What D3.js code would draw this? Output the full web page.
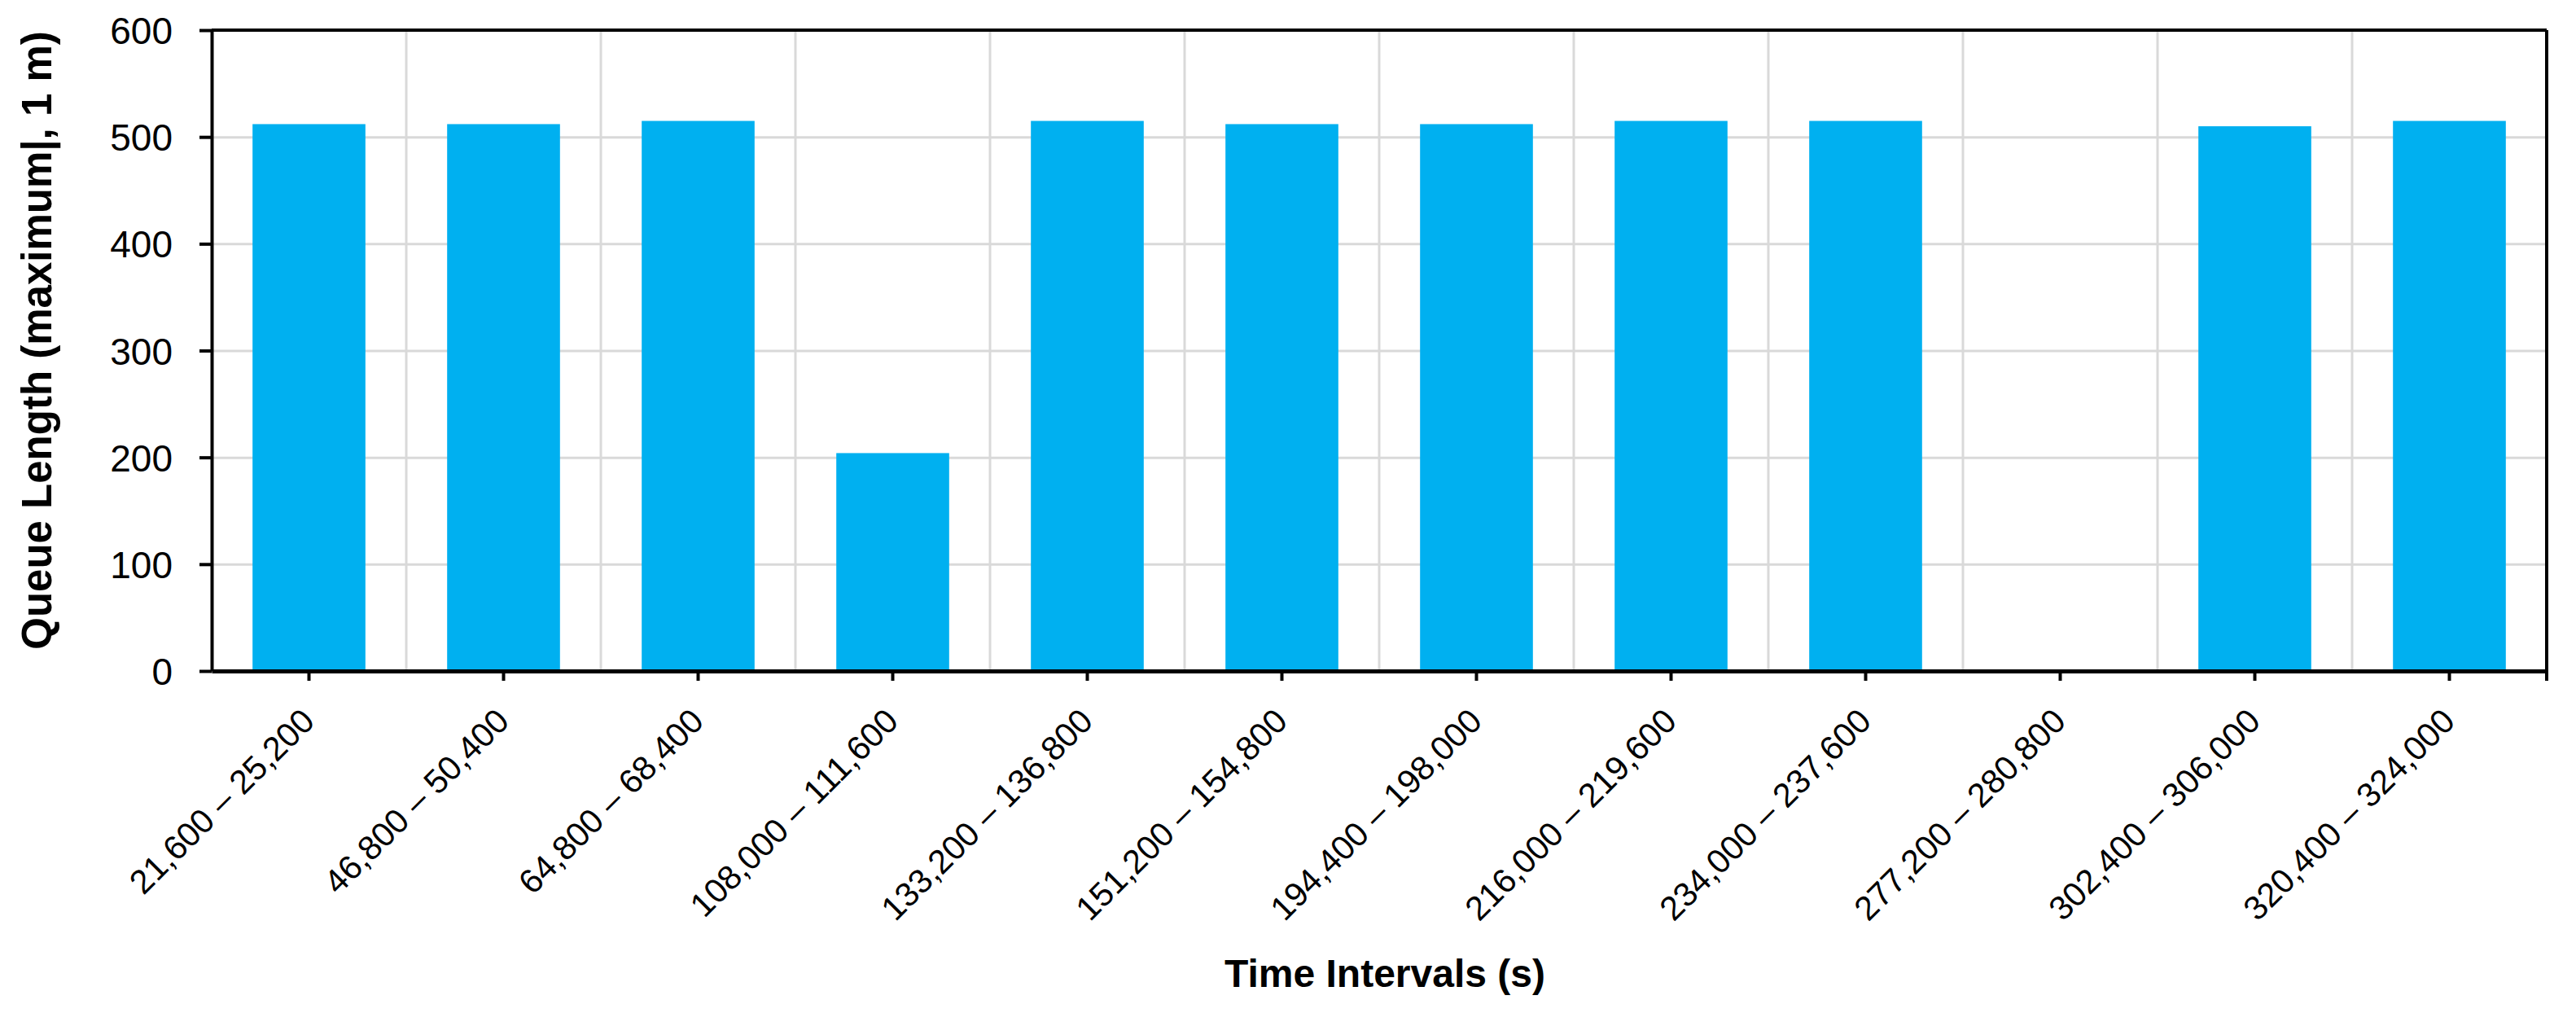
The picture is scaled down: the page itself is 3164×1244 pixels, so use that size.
<!DOCTYPE html>
<html>
<head>
<meta charset="utf-8">
<script src="https://cdn.jsdelivr.net/npm/d3@7"></script>
<style>
  body { margin: 0; background: #fff; }
  text { font-family: "Liberation Sans", Arial, sans-serif; fill: #000; }
</style>
</head>
<body>
<div id="chart"></div>
<script>
// chart data
let intervals = ["21,600 – 25,200", "46,800 – 50,400", "64,800 – 68,400", "108,000 – 111,600",
                 "133,200 – 136,800", "151,200 – 154,800", "194,400 – 198,000", "216,000 – 219,600",
                 "234,000 – 237,600", "277,200 – 280,800", "302,400 – 306,000", "320,400 – 324,000"];
let queueLength = [512, 512, 515, 204, 515, 512, 512, 515, 515, 0, 510, 515];
let yTicks = [0, 100, 200, 300, 400, 500, 600];

// set size for svg container
let width = 3164;
let height = 1244;
let margin = { top: 37, right: 36, bottom: 420, left: 260 };
let chartWidth = width - margin.left - margin.right;
let chartHeight = height - margin.top - margin.bottom;

let svg = d3.select("#chart").append("svg").attr("width", width).attr("height", height);
let chartGroup = svg.append("g").attr("transform", `translate(${margin.left}, ${margin.top})`);

// scales
let xScale = d3.scaleBand().domain(intervals).range([0, chartWidth]).paddingInner(0.42).paddingOuter(0.21);
let yScale = d3.scaleLinear().domain([0, 600]).range([chartHeight, 0]);

// horizontal gridlines
chartGroup.append("g").attr("class", "ygrid")
    .call(d3.axisLeft(yScale).tickValues(yTicks).tickSize(-chartWidth).tickFormat(""))
    .call(g => g.select(".domain").remove())
    .selectAll("line").attr("stroke", "#d9d9d9").attr("stroke-width", 3);

// vertical gridlines at category boundaries
let step = xScale.step();
let bounds = d3.range(1, intervals.length);
chartGroup.append("g").attr("class", "xgrid").selectAll("line")
    .data(bounds).enter().append("line")
    .attr("x1", d => d * step).attr("x2", d => d * step)
    .attr("y1", 0).attr("y2", chartHeight)
    .attr("stroke", "#d9d9d9").attr("stroke-width", 3);

// bars
chartGroup.selectAll("rect.bar")
    .data(queueLength).enter()
    .append("rect")
    .attr("class", "bar")
    .attr("x", (d, i) => xScale(intervals[i]))
    .attr("y", d => yScale(d))
    .attr("width", xScale.bandwidth())
    .attr("height", d => chartHeight - yScale(d))
    .attr("fill", "#00b0f0");

// frame top and right
chartGroup.append("line").attr("x1", 0).attr("x2", chartWidth).attr("y1", 0).attr("y2", 0)
    .attr("stroke", "#000").attr("stroke-width", 4);
chartGroup.append("line").attr("x1", chartWidth).attr("x2", chartWidth).attr("y1", 0).attr("y2", chartHeight + 12)
    .attr("stroke", "#000").attr("stroke-width", 4);

// y axis
let yAxis = chartGroup.append("g").attr("class", "yaxis")
    .call(d3.axisLeft(yScale).tickValues(yTicks).tickSize(15).tickPadding(33).tickSizeOuter(0));
yAxis.select(".domain").attr("stroke", "#000").attr("stroke-width", 4);
yAxis.selectAll(".tick line").attr("stroke", "#000").attr("stroke-width", 4);
yAxis.selectAll("text").style("font-size", "46px").attr("dy", "0.36em");

// x axis
let xAxis = chartGroup.append("g").attr("class", "xaxis")
    .attr("transform", `translate(0, ${chartHeight})`)
    .call(d3.axisBottom(xScale).tickSize(12).tickSizeOuter(0));
xAxis.select(".domain").attr("stroke", "#000").attr("stroke-width", 5);
xAxis.selectAll(".tick line").attr("stroke", "#000").attr("stroke-width", 4);
xAxis.selectAll("text")
    .style("font-size", "41.5px")
    .attr("text-anchor", "end")
    .attr("x", 0).attr("y", 0).attr("dy", 0)
    .attr("transform", "translate(9, 64) rotate(-45)");

// axis titles
svg.append("text")
    .attr("x", 1701)
    .attr("y", 1212)
    .attr("text-anchor", "middle")
    .style("font-size", "48px").style("font-weight", "bold")
    .text("Time Intervals (s)");

svg.append("text")
    .attr("transform", "translate(63, 418) rotate(-90)")
    .attr("text-anchor", "middle")
    .style("font-size", "51px").style("font-weight", "bold")
    .text("Queue Length (maximum|, 1 m)");
</script>
</body>
</html>
